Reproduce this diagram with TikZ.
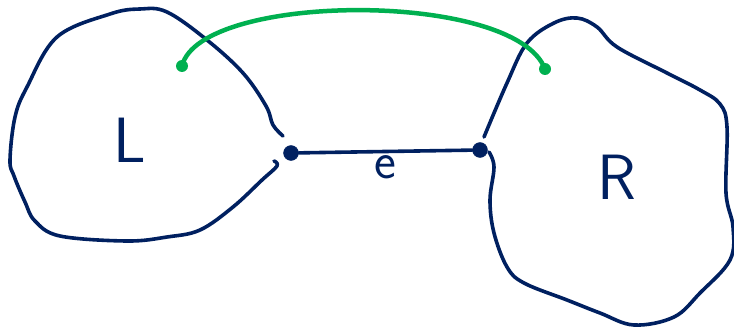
\documentclass[tikz,border=0pt]{standalone}
\usepackage{tikz}
\usetikzlibrary{positioning}
\definecolor{navy}{HTML}{002060}
\definecolor{mygreen}{HTML}{00B050}

\begin{document}
\begin{tikzpicture}[x=1pt,y=-1pt, line cap=round, line join=round,
    blob/.style={navy, line width=3.6pt},
    vtx/.style={draw=navy, fill=navy, circle, inner sep=0pt, minimum size=15pt},
    gdot/.style={fill=mygreen, circle, inner sep=0pt, minimum size=12pt},
    every node/.style={font=\sffamily}]
    \useasboundingbox (0,0) rectangle (734,329);
    % left side L
    \draw[blob] plot[smooth, tension=0.6] coordinates {(283,136) (273,125) (266,106) (243,73) (207,40) (167,12) (140,9) (110,14) (57,37) (27,87) (15,117) (10,160) (14,176) (25,202) (35,221) (60,236) (127,241) (167,237) (200,230) (233,207) (262,180) (277,166) (274,161)};
    % right side R
    \draw[blob] plot[smooth, tension=0.6] coordinates {(484,137) (507,83) (527,43) (554,23) (577,18) (597,27) (617,47) (667,73) (700,90) (720,104) (727,127) (726,193) (733,227) (730,260) (700,293) (674,317) (634,325) (600,313) (567,300) (524,283) (507,267) (494,233) (490,200) (494,167) (489,152)};
    \node[font=\fontsize{64}{64}\sffamily, navy] (l) at (130,140) {L};
    \node[font=\fontsize{64}{64}\sffamily, navy] (r) at (617,177) {R};
    % edge e
    \node[vtx] (dl) at (291,153) {};
    \node[vtx] (dr) at (480,150) {};
    \draw[blob] (dl) -- node[below=-1pt, font=\fontsize{52}{52}\sffamily]{e} (dr);
    % green path
    \node[gdot] (gl) at (182,66) {};
    \node[gdot] (gr) at (545,69) {};
    \draw[mygreen, line width=4.5pt] (gl.center) .. controls (200,-8) and (515,-10) .. (gr.center);
\end{tikzpicture}
\end{document}
